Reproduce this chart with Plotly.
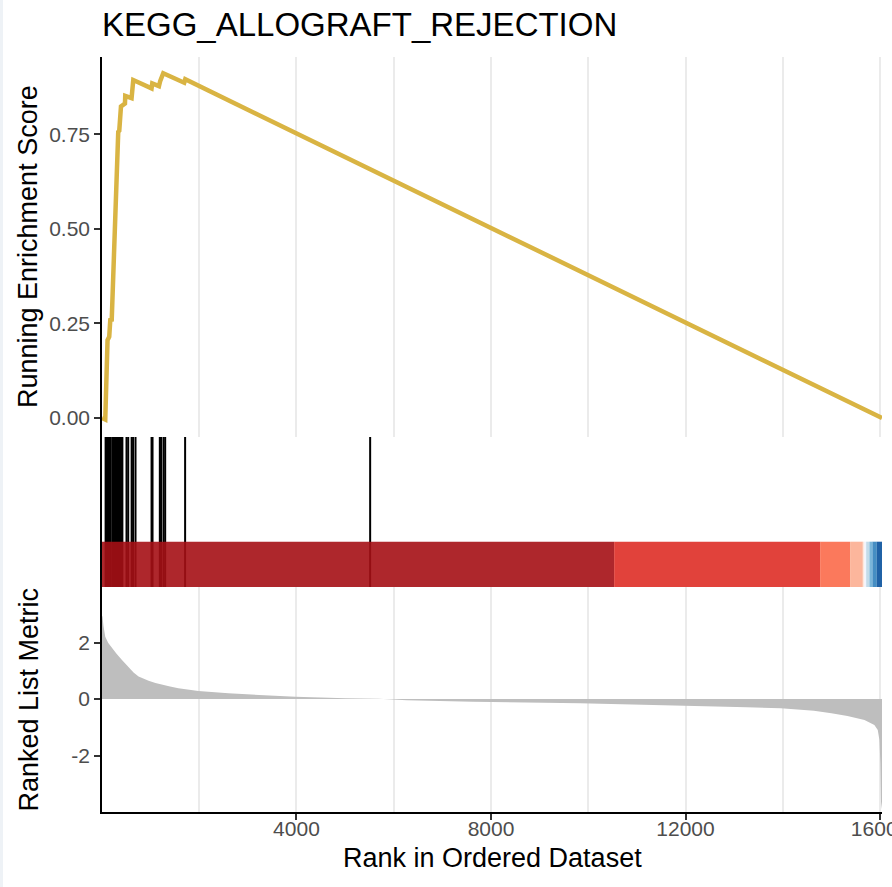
import plotly.graph_objects as go
from plotly.subplots import make_subplots

title_text = "KEGG_ALLOGRAFT_REJECTION"
n_genes = 16040

# Running enrichment score (rank, score)
es_rank = [1, 68, 115, 150, 171, 201, 335, 356, 391, 473, 479, 609, 644,
           1020, 1034, 1172, 1199, 1260, 1692, 1713, 16040]
es_score = [0.0, -0.004, 0.206, 0.215, 0.259, 0.26, 0.757, 0.76, 0.824, 0.832,
            0.852, 0.846, 0.894, 0.872, 0.885, 0.878, 0.892, 0.912, 0.887,
            0.896, 0.0]

# Positions of gene-set members in the ranked list
hit_ranks = [75, 95, 115, 135, 150, 165, 210, 225, 240, 255, 270, 285, 300,
             315, 330, 345, 360, 380, 400, 420, 505, 540, 610, 640, 690,
             1020, 1040, 1190, 1215, 1265, 1300, 1710, 5515]

# Colour-bar segments (rank edges and colours)
seg_edges = [1, 10532, 14768, 15384, 15646, 15680, 15714, 15782, 15843, 15933, 16040]
seg_colors = ["#A50F15", "#DE2D26", "#FB6A4A", "#FCAE91", "#FEE5D9",
              "#EFF3FF", "#BDD7E7", "#6BAED6", "#3182BD", "#08519C"]
seg_height = 0.302

# Ranked list metric (rank, value)
met_rank = [1, 12, 30, 68, 130, 206, 300, 412, 548, 650, 753, 850, 959, 1100,
            1235, 1400, 1571, 1982, 2600, 3300, 3979, 5008, 5688, 6270, 7630,
            9830, 11890, 13260, 13960, 14640, 15000, 15330, 15680, 15883,
            15953, 15987, 16007, 16020, 16040]
met_val = [2.95, 2.91, 2.6, 2.2, 1.98, 1.79, 1.6, 1.38, 1.12, 0.94, 0.80,
           0.72, 0.65, 0.57, 0.50, 0.44, 0.38, 0.28, 0.20, 0.13, 0.08, 0.03,
           0.01, -0.04, -0.10, -0.15, -0.22, -0.29, -0.33, -0.42, -0.50, -0.60,
           -0.74, -0.92, -1.1, -1.45, -2.27, -3.65, -3.9]

es_ticks = [0, 0.25, 0.5, 0.75]
es_ticktext = ["0.00", "0.25", "0.50", "0.75"]
met_ticks = [-2, 0, 2]
met_ticktext = ["-2", "0", "2"]
x_ticks = [4000, 8000, 12000, 16000]
x_ticktext = ["4000", "8000", "12000", "16000"]

FONT = "Liberation Sans, Arial, sans-serif"
TICK_COLOR = "#4D4D4D"
GRID = "#EBEBEB"

fig = make_subplots(rows=3, cols=1, shared_xaxes=False, vertical_spacing=0,
                    row_heights=[380, 150, 225])

fig.add_trace(go.Scatter(x=es_rank, y=es_score, mode="lines",
                         line=dict(color="#D9B443", width=4.5),
                         hoverinfo="skip", showlegend=False), row=1, col=1)

hx, hy = [], []
for h in hit_ranks:
    hx += [h, h, None]
    hy += [0, 1, None]
fig.add_trace(go.Scatter(x=hx, y=hy, mode="lines",
                         line=dict(color="black", width=2),
                         hoverinfo="skip", showlegend=False), row=2, col=1)

for i, c in enumerate(seg_colors):
    x0, x1 = seg_edges[i], seg_edges[i + 1]
    fig.add_trace(go.Scatter(x=[x0, x1, x1, x0, x0],
                             y=[0, 0, seg_height, seg_height, 0],
                             mode="lines", fill="toself", fillcolor=c,
                             line=dict(width=0, color=c), opacity=0.9,
                             hoverinfo="skip", showlegend=False), row=2, col=1)

fig.add_trace(go.Scatter(x=met_rank, y=met_val, mode="lines", fill="tozeroy",
                         fillcolor="#BEBEBE", line=dict(width=0, color="#BEBEBE"),
                         hoverinfo="skip", showlegend=False), row=3, col=1)

xr = [1, n_genes]
minor_grid = dict(dtick=2000, tick0=0, showgrid=True, gridcolor=GRID, gridwidth=1.5, ticks="")
fig.update_xaxes(range=xr, row=1, col=1, showgrid=True, gridcolor=GRID, gridwidth=1.5,
                 tick0=0, dtick=4000, showticklabels=False, ticks="", showline=False,
                 zeroline=False, minor=minor_grid, automargin=False)
fig.update_xaxes(range=xr, row=2, col=1, showgrid=False, showticklabels=False,
                 ticks="", showline=False, zeroline=False, automargin=False)
fig.update_xaxes(range=xr, row=3, col=1, showgrid=True, gridcolor=GRID, gridwidth=1.5,
                 tickvals=x_ticks, ticktext=x_ticktext, ticks="outside", ticklen=6,
                 tickwidth=1.5, tickcolor="#333333", showline=True, linecolor="black",
                 linewidth=1.5, zeroline=False, minor=minor_grid,
                 ticklabelstandoff=-9, ticklabeloverflow="allow", automargin=False,
                 tickfont=dict(family=FONT, size=21, color=TICK_COLOR))

fig.update_yaxes(range=[-0.0503, 0.955], row=1, col=1, tickvals=es_ticks,
                 ticktext=es_ticktext, ticks="outside", ticklen=6, tickwidth=1.5,
                 tickcolor="#333333", showline=True, linecolor="black", linewidth=1.5,
                 showgrid=False, zeroline=False, automargin=False,
                 tickfont=dict(family=FONT, size=21, color=TICK_COLOR))
fig.update_yaxes(range=[0, 1], row=2, col=1, showticklabels=False, ticks="",
                 showline=True, linecolor="black", linewidth=1.5, showgrid=False,
                 zeroline=False, automargin=False)
fig.update_yaxes(range=[-4.0, 3.965], row=3, col=1, tickvals=met_ticks,
                 ticktext=met_ticktext, ticks="outside", ticklen=6, tickwidth=1.5,
                 tickcolor="#333333", showline=True, linecolor="black", linewidth=1.5,
                 showgrid=False, zeroline=False, automargin=False,
                 tickfont=dict(family=FONT, size=21, color=TICK_COLOR))

W, H = 892, 887
ml, mr, mt, mb = 102, 10, 57, 75
pw = W - ml - mr
ph = H - mt - mb

fig.update_layout(
    width=W, height=H,
    margin=dict(l=ml, r=mr, t=mt, b=mb, autoexpand=False),
    paper_bgcolor="white", plot_bgcolor="white",
    font=dict(family=FONT, color="black"),
    title=dict(text=title_text, x=0, xref="paper", xanchor="left",
               y=1 - 24 / H, yref="container", yanchor="middle",
               font=dict(family=FONT, size=33, color="black")),
    showlegend=False,
)

# faint frame strip along the left edge of the picture
fig.add_shape(type="rect", xref="paper", yref="paper",
              x0=-ml / pw, x1=-(ml - 3) / pw, y0=-mb / ph, y1=1 + mt / ph,
              fillcolor="#EEF2F6", line=dict(width=0), layer="below")

ya = fig.layout.yaxis.domain
yc = fig.layout.yaxis3.domain
fig.add_annotation(text="Running Enrichment Score", xref="paper", yref="paper",
                   x=-(ml - 28) / pw, y=(ya[0] + ya[1]) / 2, textangle=-90,
                   showarrow=False, xanchor="center", yanchor="middle",
                   font=dict(family=FONT, size=27, color="black"))
fig.add_annotation(text="Ranked List Metric", xref="paper", yref="paper",
                   x=-(ml - 28) / pw, y=(yc[0] + yc[1]) / 2, textangle=-90,
                   showarrow=False, xanchor="center", yanchor="middle",
                   font=dict(family=FONT, size=27, color="black"))
fig.add_annotation(text="Rank in Ordered Dataset", xref="paper", yref="paper",
                   x=0.5, y=0, yshift=-46, showarrow=False, xanchor="center",
                   yanchor="middle", font=dict(family=FONT, size=27, color="black"))

fig.write_html("out.html", config={"displayModeBar": False},
               post_script="document.body.style.margin='0';document.body.style.overflow='hidden';")
